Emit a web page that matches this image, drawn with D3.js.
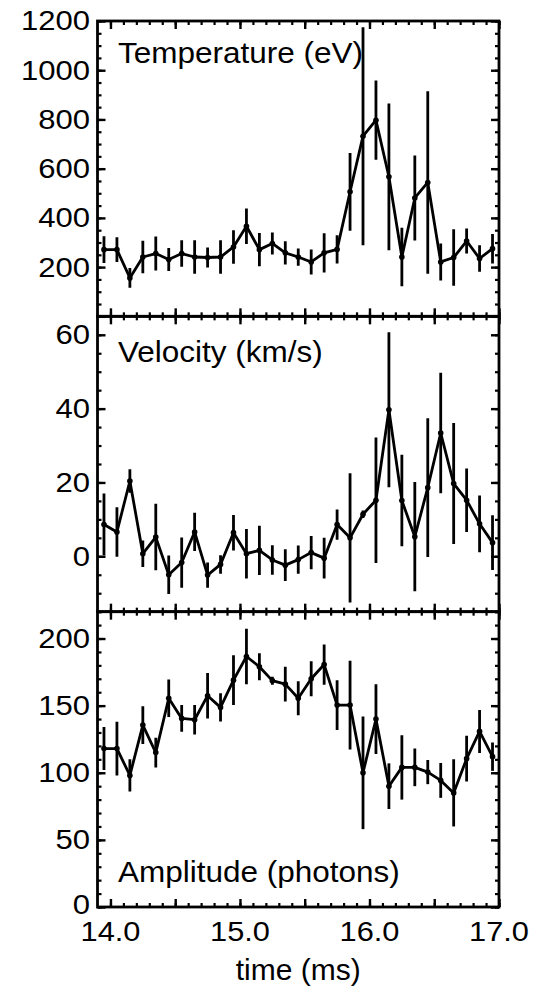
<!DOCTYPE html>
<html>
<head>
<meta charset="utf-8">
<script src="https://cdn.jsdelivr.net/npm/d3@7"></script>
<style>
  body { margin: 0; background: #fff; }
  text { font-family: "Liberation Sans", Arial, Helvetica, sans-serif; fill: #000; }
</style>
</head>
<body>
<div id="chart"></div>
<script>
// time of each bin centre (ms)
const timeMs = [13.95, 14.05, 14.15, 14.25, 14.35, 14.45, 14.55, 14.65, 14.75, 14.85,
                14.95, 15.05, 15.15, 15.25, 15.35, 15.45, 15.55, 15.65, 15.75, 15.85,
                15.95, 16.05, 16.15, 16.25, 16.35, 16.45, 16.55, 16.65, 16.75, 16.85, 16.95];

const tempVal = [271, 271, 156, 241, 255, 231, 255, 241, 239, 241,
                 282, 366, 271, 296, 258, 241, 221, 258, 272, 506,
                 732, 797, 567, 241, 481, 544, 221, 239, 306, 235, 275];
const tempErr = [54, 50, 40, 66, 69, 47, 54, 68, 41, 68,
                 68, 72, 68, 45, 47, 35, 51, 80, 57, 158,
                 443, 161, 298, 119, 173, 371, 75, 115, 51, 54, 60];

const velVal = [8.6, 6.6, 20.4, 0.7, 5.2, -5.0, -1.7, 6.6, -5.1, -2.2,
                6.4, 0.7, 1.6, -1.0, -2.4, -0.9, 1.0, -0.5, 8.6, 5.0,
                11.4, 15.2, 39.7, 15.1, 5.3, 18.6, 33.4, 19.7, 15.2, 8.8, 3.7];
const velErr = [8.4, 6.7, 3.2, 3.6, 9, 5.2, 6.8, 5.2, 3.4, 2.5,
                4.8, 6.7, 6.7, 4, 4.3, 3.8, 4.5, 5.5, 4.1, 17.5,
                1, 17, 21, 12.4, 14.8, 18.8, 16.3, 16.4, 8.6, 7.7, 7.4];

const ampVal = [118, 118, 98, 135.5, 115, 155.5, 140.5, 139.5, 157.4, 148.7,
                169, 186.6, 179, 168.6, 166, 155.5, 170, 180.6, 150.4, 150.4,
                100, 140, 90, 104, 104, 100.5, 94.3, 85, 110.5, 130.8, 112];
const ampErr = [16, 20, 12, 14, 11, 14, 10, 11, 17, 10.6,
                18.5, 20.6, 10, 3, 13, 12.7, 13, 15, 18.5, 33,
                42, 26, 17, 24, 14, 9, 13, 25, 17, 16, 10.6];

const xDomain = [13.9, 17.0];
const xMajor = [14.0, 14.5, 15.0, 15.5, 16.0, 16.5, 17.0];
const xLabels = ["14.0", "15.0", "16.0", "17.0"];

const panels = [
  { label: "Temperature (eV)", values: tempVal, errs: tempErr, domain: [0, 1200],
    major: 200, minor: 50, labels: [200, 400, 600, 800, 1000, 1200], labelY: 63 },
  { label: "Velocity (km/s)", values: velVal, errs: velErr, domain: [-15, 65],
    major: 20, minor: 5, labels: [0, 20, 40, 60], labelY: 362 },
  { label: "Amplitude (photons)", values: ampVal, errs: ampErr, domain: [0, 220],
    major: 50, minor: 10, labels: [0, 50, 100, 150, 200], labelY: 882 }
];

const W = 541, H = 988;
const plotL = 97.5, plotR = 499, plotT = 21, plotB = 907;
const panelH = (plotB - plotT) / panels.length;
const lw = 2.8;

const svg = d3.select("#chart").append("svg")
  .attr("width", W).attr("height", H);

const x = d3.scaleLinear().domain(xDomain).range([plotL, plotR]);
const xMinor = d3.range(140, 171).map(d => d / 10);

panels.forEach((p, k) => {
  const y0 = plotT + k * panelH, y1 = y0 + panelH;
  const y = d3.scaleLinear().domain(p.domain).range([y1, y0]);
  const yMajorT = d3.range(Math.ceil(p.domain[0] / p.major) * p.major, p.domain[1] + 1e-9, p.major);
  const yMinorT = d3.range(Math.ceil(p.domain[0] / p.minor) * p.minor, p.domain[1] + 1e-9, p.minor);

  const g = svg.append("g");
  const clipId = "clip" + k;
  g.append("clipPath").attr("id", clipId)
    .append("rect").attr("x", plotL).attr("y", y0).attr("width", plotR - plotL).attr("height", panelH);

  // inward ticks on all four sides
  const axes = [
    [d3.axisLeft(y), "translate(" + plotL + ",0)", yMajorT, yMinorT],
    [d3.axisRight(y), "translate(" + plotR + ",0)", yMajorT, yMinorT],
    [d3.axisTop(x), "translate(0," + y0 + ")", xMajor, xMinor],
    [d3.axisBottom(x), "translate(0," + y1 + ")", xMajor, xMinor]
  ];
  axes.forEach(([ax, tr, maj, min]) => {
    g.append("g").attr("transform", tr)
      .call(ax.tickValues(min).tickSize(-4).tickFormat(""))
      .call(s => s.select(".domain").remove())
      .call(s => s.selectAll("line").attr("stroke-width", 2.2));
    g.append("g").attr("transform", tr)
      .call(ax.tickValues(maj).tickSize(-8).tickFormat(""))
      .call(s => s.select(".domain").remove())
      .call(s => s.selectAll("line").attr("stroke-width", 2.4));
  });

  g.append("rect")
    .attr("x", plotL).attr("y", y0).attr("width", plotR - plotL).attr("height", panelH)
    .attr("fill", "none").attr("stroke", "#000").attr("stroke-width", lw);

  // y tick labels
  g.selectAll("g.ylab").data(p.labels).join("g")
    .attr("class", "ylab")
    .attr("transform", d => "translate(90," + (y(d) - (k === 2 && d === 0 ? 2 : 0)) + ") scale(1.15,1)")
    .append("text")
    .attr("text-anchor", "end").attr("dy", "0.35em")
    .attr("font-size", 27)
    .text(d => d);

  const plot = g.append("g").attr("clip-path", "url(#" + clipId + ")");

  plot.selectAll("line.err").data(p.values).join("line")
    .attr("class", "err")
    .attr("x1", (d, i) => x(timeMs[i])).attr("x2", (d, i) => x(timeMs[i]))
    .attr("y1", (d, i) => y(d - p.errs[i])).attr("y2", (d, i) => y(d + p.errs[i]))
    .attr("stroke", "#000").attr("stroke-width", lw);

  plot.append("path")
    .datum(p.values)
    .attr("d", d3.line().x((d, i) => x(timeMs[i])).y(d => y(d)))
    .attr("fill", "none").attr("stroke", "#000").attr("stroke-width", lw)
    .attr("stroke-linejoin", "round");

  plot.selectAll("circle").data(p.values).join("circle")
    .attr("cx", (d, i) => x(timeMs[i])).attr("cy", d => y(d))
    .attr("r", 2.8).attr("fill", "#000");

  g.append("g")
    .attr("transform", "translate(118," + p.labelY + ") scale(1.05,1)")
    .append("text")
    .attr("font-size", 30)
    .text(p.label);
});

// x tick labels under the bottom panel
svg.selectAll("g.xlab").data(xLabels).join("g")
  .attr("class", "xlab")
  .attr("transform", d => "translate(" + x(+d) + ",941) scale(1.14,1)")
  .append("text")
  .attr("text-anchor", "middle")
  .attr("font-size", 27)
  .text(d => d);

svg.append("text")
  .attr("x", (plotL + plotR) / 2).attr("y", 980)
  .attr("text-anchor", "middle")
  .attr("font-size", 30)
  .text("time (ms)");
</script>
</body>
</html>
